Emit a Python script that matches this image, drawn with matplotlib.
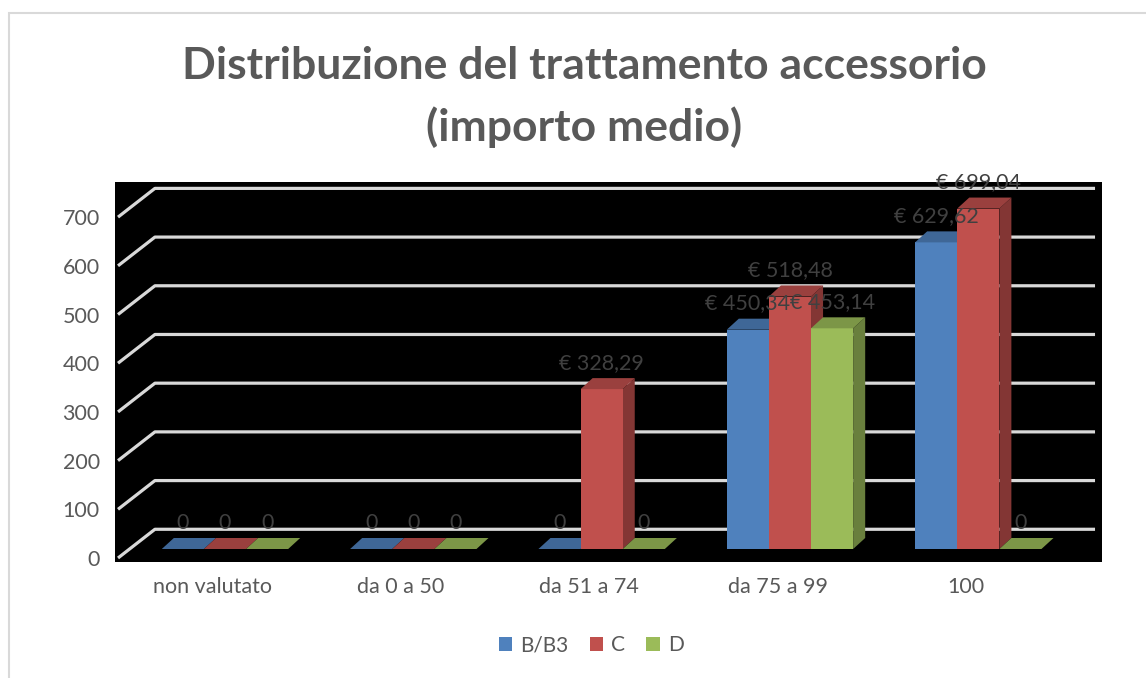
import matplotlib.pyplot as plt
from matplotlib.patches import Polygon, Patch, Rectangle
from matplotlib.colors import to_rgb

plt.rcParams['font.family'] = ['Lato', 'DejaVu Sans']

# data
categories = ['non valutato', 'da 0 a 50', 'da 51 a 74', 'da 75 a 99', '100']
series_names = ['B/B3', 'C', 'D']
b_b3 = [0, 0, 0, 450.34, 629.62]
c_vals = [0, 0, 328.29, 518.48, 699.04]
d_vals = [0, 0, 0, 453.14, 0]
y_ticks = [0, 100, 200, 300, 400, 500, 600, 700]
colors = ['#4F81BD', '#C0504D', '#9BBB59']
text_col = '#595959'


def shade(c, f):
    r, g, b = to_rgb(c)
    return (r * f, g * f, b * f)


def fmt(v):
    if v == 0:
        return '0'
    return '€ ' + ('%.2f' % v).replace('.', ',')


fig = plt.figure(figsize=(11.46, 6.78), dpi=100)
ax = fig.add_axes([115 / 1146, 1 - 562 / 678, 987 / 1146, 380 / 678])
ax.set_facecolor('black')
for s in ax.spines.values():
    s.set_visible(False)
ax.set_xlim(-0.584, 4.657)
ax.set_ylim(-26.7, 753.6)

# 3d geometry (in data units)
w = 0.2237
dx, dy = 0.064, 22.6
back_off, front_off = 40.5, -18.5

# gridlines: diagonal on the side + horizontal on back wall
for v in y_ticks:
    ax.plot([-0.568, -0.372, 4.620], [v + front_off, v + back_off, v + back_off],
            color='#D9D9D9', lw=2.3, solid_capstyle='butt', zorder=1)

series = [b_b3, c_vals, d_vals]
for i in range(len(categories)):
    for j, vals in enumerate(series):
        h = vals[i]
        x0 = i + (j - 1) * w - w / 2
        x1 = x0 + w
        col = colors[j]
        side = [(x1, 0), (x1 + dx, dy), (x1 + dx, h + dy), (x1, h)]
        front = [(x0, 0), (x1, 0), (x1, h), (x0, h)]
        top = [(x0, h), (x1, h), (x1 + dx, h + dy), (x0 + dx, h + dy)]
        ax.add_patch(Polygon(side, closed=True, fc=shade(col, 0.68), lw=0, zorder=2))
        ax.add_patch(Polygon(front, closed=True, fc=col, lw=0, zorder=2))
        ax.add_patch(Polygon(top, closed=True, fc=shade(col, 0.8), lw=0, zorder=2))

for i in range(len(categories)):
    for j, vals in enumerate(series):
        h = vals[i]
        xc = i + (j - 1) * w
        ax.text(xc, h + 54, fmt(h), ha='center', va='center', fontsize=15.5,
                color='#404040', zorder=5)

ax.set_yticks([v + front_off for v in y_ticks])
ax.set_yticklabels([str(v) for v in y_ticks])
ax.set_xticks([i - 0.065 for i in range(len(categories))])
ax.set_xticklabels(categories)
ax.tick_params(axis='y', length=0, pad=11, labelsize=15.5, labelcolor=text_col)
ax.tick_params(axis='x', length=0, pad=11, labelsize=15.5, labelcolor=text_col)

fig.text(0.51, 1 - 66 / 678, 'Distribuzione del trattamento accessorio',
         ha='center', va='center', fontsize=32, fontweight='bold', color=text_col)
fig.text(0.51, 1 - 127 / 678, '(importo medio)',
         ha='center', va='center', fontsize=32, fontweight='bold', color=text_col)

handles = [Patch(facecolor=c, edgecolor='none') for c in colors]
fig.legend(handles, series_names, loc='center', bbox_to_anchor=(0.516, 1 - 645 / 678),
           ncol=3, frameon=False, fontsize=15, handlelength=0.65, handleheight=0.65,
           handletextpad=0.4, columnspacing=1.0, labelcolor=text_col)

fig.add_artist(Rectangle((9 / 1146, -0.1), 2, 1 - 12.5 / 678 + 0.1,
                         transform=fig.transFigure, fill=False,
                         edgecolor='#D9D9D9', lw=1.5))

fig.savefig('out.png', dpi=100)
